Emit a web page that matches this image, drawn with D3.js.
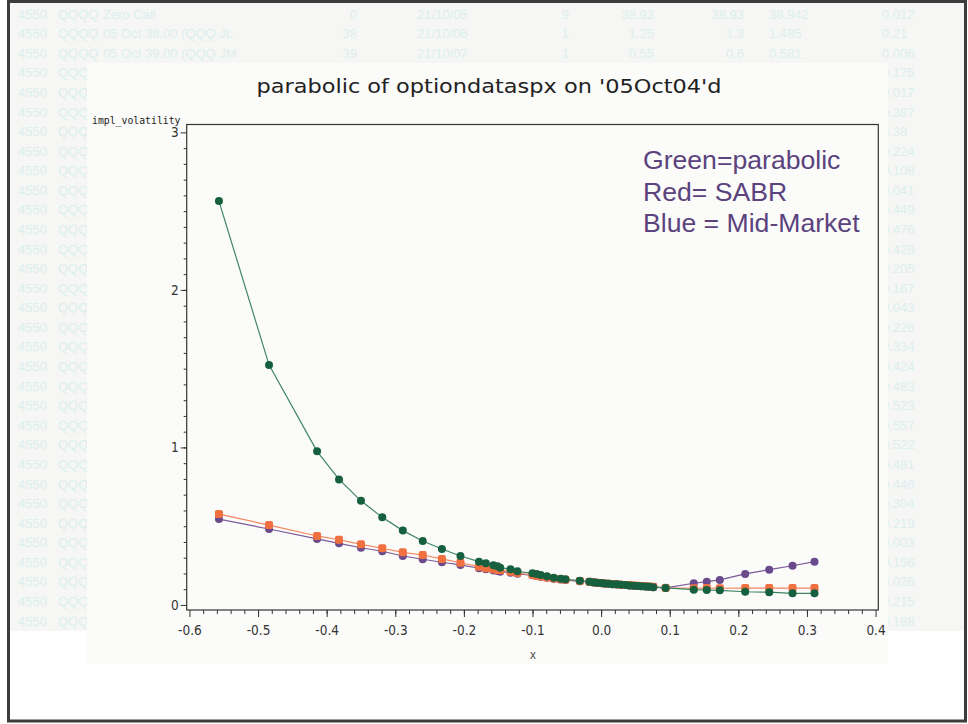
<!DOCTYPE html>
<html>
<head>
<meta charset="utf-8">
<script src="https://cdn.jsdelivr.net/npm/d3@7"></script>
<style>
  body { margin: 0; background: #ffffff; }
  svg { display: block; }
  .tick text { font-family: "DejaVu Sans Condensed", "DejaVu Sans", sans-serif; font-stretch: condensed; font-size: 13.5px; fill: #333; }
  .tick line { stroke: #333; }
</style>
</head>
<body>
<script>
// background listing rows (first three are fully visible)
const tableTop = [
  ["4550", "QQQQ", "Zero Call", "0", "21/10/05", "9", "38.93", "38.93", "38.942", "0.012"],
  ["4550", "QQQQ", "05 Oct 38.00 (QQQ JL", "38", "21/10/06", "1", "1.25", "1.3", "1.485", "0.21"],
  ["4550", "QQQQ", "05 Oct 39.00 (QQQ JM", "39", "21/10/07", "1", "0.55", "0.6", "0.581", "0.006"]
];
const tableLast = ["0.175", "0.017", "0.387", "0.38", "0.224", "0.108", "0.041", "0.449", "0.476",
  "0.428", "0.205", "0.167", "0.043", "0.226", "0.334", "0.424", "0.483", "0.523", "0.557", "0.522",
  "0.481", "0.446", "0.304", "0.219", "0.003", "0.156", "0.026", "0.215", "0.188"];

// chart data
const strikeX = [-0.557, -0.484, -0.414, -0.382, -0.350, -0.319, -0.289, -0.260, -0.232, -0.205,
  -0.178, -0.168, -0.157, -0.151, -0.147, -0.132, -0.122, -0.100, -0.094, -0.088,
  -0.079, -0.069, -0.059, -0.052, -0.031, -0.017, -0.011, -0.006,
  0.000, 0.005, 0.011, 0.017, 0.023, 0.029, 0.036, 0.041, 0.047, 0.053, 0.059, 0.065, 0.070, 0.076,
  0.094, 0.135, 0.154, 0.173, 0.210, 0.245, 0.279, 0.311];

const parabolic = [2.564, 1.524, 0.975, 0.797, 0.661, 0.556, 0.472, 0.406, 0.355, 0.311,
  0.275, 0.264, 0.252, 0.245, 0.237, 0.227, 0.214, 0.201, 0.197, 0.190,
  0.182, 0.173, 0.167, 0.163, 0.154, 0.148, 0.144, 0.141,
  0.139, 0.136, 0.135, 0.132, 0.131, 0.128, 0.127, 0.124, 0.122, 0.121, 0.118, 0.117, 0.115, 0.113,
  0.108, 0.097, 0.095, 0.093, 0.084, 0.081, 0.074, 0.074];

const sabr = [0.577, 0.507, 0.438, 0.414, 0.385, 0.360, 0.334, 0.317, 0.292, 0.268,
  0.243, 0.233, 0.226, 0.222, 0.220, 0.211, 0.203, 0.190, 0.186, 0.181,
  0.175, 0.168, 0.163, 0.160, 0.152, 0.147, 0.144, 0.141,
  0.139, 0.137, 0.135, 0.133, 0.131, 0.129, 0.127, 0.126, 0.124, 0.122, 0.120, 0.119, 0.117, 0.115,
  0.108, 0.106, 0.107, 0.106, 0.107, 0.107, 0.107, 0.107];

const midMarket = [0.545, 0.482, 0.419, 0.391, 0.363, 0.341, 0.311, 0.290, 0.271, 0.254,
  0.233, 0.226, 0.218, 0.216, 0.211, 0.205, 0.198, 0.188, 0.184, 0.179,
  0.173, 0.166, 0.161, 0.158, 0.150, 0.146, 0.143, 0.140,
  0.138, 0.136, 0.134, 0.132, 0.130, 0.128, 0.126, 0.124, 0.122, 0.121, 0.119, 0.117, 0.115, 0.113,
  0.109, 0.138, 0.148, 0.159, 0.197, 0.224, 0.249, 0.275];

const xTicks = [-0.6, -0.5, -0.4, -0.3, -0.2, -0.1, 0.0, 0.1, 0.2, 0.3, 0.4];
const yTicks = [0, 1, 2, 3];
const legendLines = ["Green=parabolic", "Red= SABR", "Blue = Mid-Market"];
const title = "parabolic of optiondataspx on '05Oct04'd";

let width = 968, height = 724;

let svg = d3.select('body').append('svg')
  .attr('width', width)
  .attr('height', height);

// background listing
svg.append('rect')
  .attr('x', 10).attr('y', 3).attr('width', 954).attr('height', 628)
  .attr('fill', '#f6f6f4');

const colX = [18, 58, 103, 357, 417, 569, 654, 744, 769, 882];
const colAnchor = ['start', 'start', 'start', 'end', 'start', 'end', 'end', 'end', 'start', 'start'];
const rowY = i => 14 + i * 19.58 + 4.6;

let listing = svg.append('g')
  .style('font-family', 'Liberation Sans, Arial, sans-serif')
  .style('font-size', '13px')
  .attr('fill', '#dcefef');

tableTop.forEach((row, i) => {
  row.forEach((cell, j) => {
    listing.append('text')
      .attr('x', colX[j]).attr('y', rowY(i))
      .attr('text-anchor', colAnchor[j])
      .text(cell);
  });
});
tableLast.forEach((v, k) => {
  let i = k + 3;
  listing.append('text').attr('x', colX[0]).attr('y', rowY(i)).text('4550');
  listing.append('text').attr('x', colX[1]).attr('y', rowY(i)).text('QQQQ');
  listing.append('text').attr('x', colX[9]).attr('y', rowY(i)).text(v);
});

// chart panel
svg.append('rect')
  .attr('x', 87).attr('y', 63).attr('width', 801).attr('height', 601)
  .attr('fill', '#fbfbf9');

// outer frame
svg.append('rect')
  .attr('x', 8.5).attr('y', 1.5).attr('width', 957).attr('height', 719.5)
  .attr('fill', 'none')
  .attr('stroke', '#3c3c3c')
  .attr('stroke-width', 3);

// title
svg.append('text')
  .attr('x', 489).attr('y', 93)
  .attr('text-anchor', 'middle')
  .attr('textLength', 465)
  .attr('lengthAdjust', 'spacingAndGlyphs')
  .style('font-family', 'DejaVu Sans, sans-serif')
  .style('font-size', '20px')
  .attr('fill', '#222')
  .text(title);

let margin = { left: 186.7, right: 878.3, top: 124.5, bottom: 610 };

const xScale = d3.scaleLinear()
  .domain([-0.604, 0.404])
  .range([margin.left, margin.right]);

const yScale = d3.scaleLinear()
  .domain([-0.032, 3.05])
  .range([margin.bottom, margin.top]);

// minor ticks
svg.append('g')
  .attr('transform', `translate(0, ${margin.bottom})`)
  .call(d3.axisBottom(xScale).tickValues(d3.range(-0.58, 0.4, 0.02)).tickSize(4).tickSizeOuter(0).tickFormat(''))
  .call(g => g.select('.domain').remove());

svg.append('g')
  .attr('transform', `translate(${margin.left}, 0)`)
  .call(d3.axisLeft(yScale).tickValues(d3.range(0.1, 3, 0.1)).tickSize(3).tickSizeOuter(0).tickFormat(''))
  .call(g => g.select('.domain').remove());

// major ticks
svg.append('g')
  .attr('transform', `translate(0, ${margin.bottom})`)
  .call(d3.axisBottom(xScale).tickValues(xTicks).tickSize(7).tickPadding(8).tickSizeOuter(0)
    .tickFormat(d => d.toFixed(1)))
  .call(g => g.select('.domain').remove());

svg.append('g')
  .attr('transform', `translate(${margin.left}, 0)`)
  .call(d3.axisLeft(yScale).tickValues(yTicks).tickSize(6).tickPadding(2).tickSizeOuter(0)
    .tickFormat(d3.format('d')))
  .call(g => g.select('.domain').remove());

// plot frame
svg.append('rect')
  .attr('x', margin.left).attr('y', margin.top)
  .attr('width', margin.right - margin.left)
  .attr('height', margin.bottom - margin.top)
  .attr('fill', 'none')
  .attr('stroke', '#333')
  .attr('stroke-width', 1.2);

// axis labels
svg.append('text')
  .attr('x', 92).attr('y', 124)
  .style('font-family', 'DejaVu Sans Mono, monospace')
  .style('font-size', '9.8px')
  .attr('fill', '#222')
  .text('impl_volatility');

svg.append('text')
  .attr('x', 533).attr('y', 659)
  .attr('text-anchor', 'middle')
  .style('font-family', 'DejaVu Sans Condensed, DejaVu Sans, sans-serif')
  .style('font-size', '12px')
  .attr('fill', '#555')
  .text('x');

// series
const series = [
  { values: midMarket, line: '#7a5a9c', fill: '#6a4a8c', shape: 'circle' },
  { values: sabr, line: '#f4875e', fill: '#f07040', shape: 'square' },
  { values: parabolic, line: '#3f8565', fill: '#17603f', shape: 'circle' }
];

const line = d3.line()
  .x(d => xScale(d[0]))
  .y(d => yScale(d[1]));

series.forEach(s => {
  let pts = strikeX.map((x, i) => [x, s.values[i]]);
  svg.append('path')
    .datum(pts)
    .attr('d', line)
    .attr('fill', 'none')
    .attr('stroke', s.line)
    .attr('stroke-width', 1.2);

  if (s.shape === 'circle') {
    svg.append('g').selectAll('circle')
      .data(pts)
      .enter().append('circle')
      .attr('cx', d => xScale(d[0]))
      .attr('cy', d => yScale(d[1]))
      .attr('r', 4)
      .attr('fill', s.fill);
  } else {
    svg.append('g').selectAll('rect')
      .data(pts)
      .enter().append('rect')
      .attr('x', d => xScale(d[0]) - 4)
      .attr('y', d => yScale(d[1]) - 4)
      .attr('width', 8).attr('height', 8)
      .attr('rx', 2)
      .attr('fill', s.fill);
  }
});

// legend text
svg.append('g')
  .selectAll('text')
  .data(legendLines)
  .enter().append('text')
  .attr('x', 643)
  .attr('y', (d, i) => 169 + i * 31.5)
  .style('font-family', 'Liberation Sans, Arial, sans-serif')
  .style('font-size', '26.6px')
  .attr('fill', '#5b437e')
  .text(d => d);
</script>
</body>
</html>
